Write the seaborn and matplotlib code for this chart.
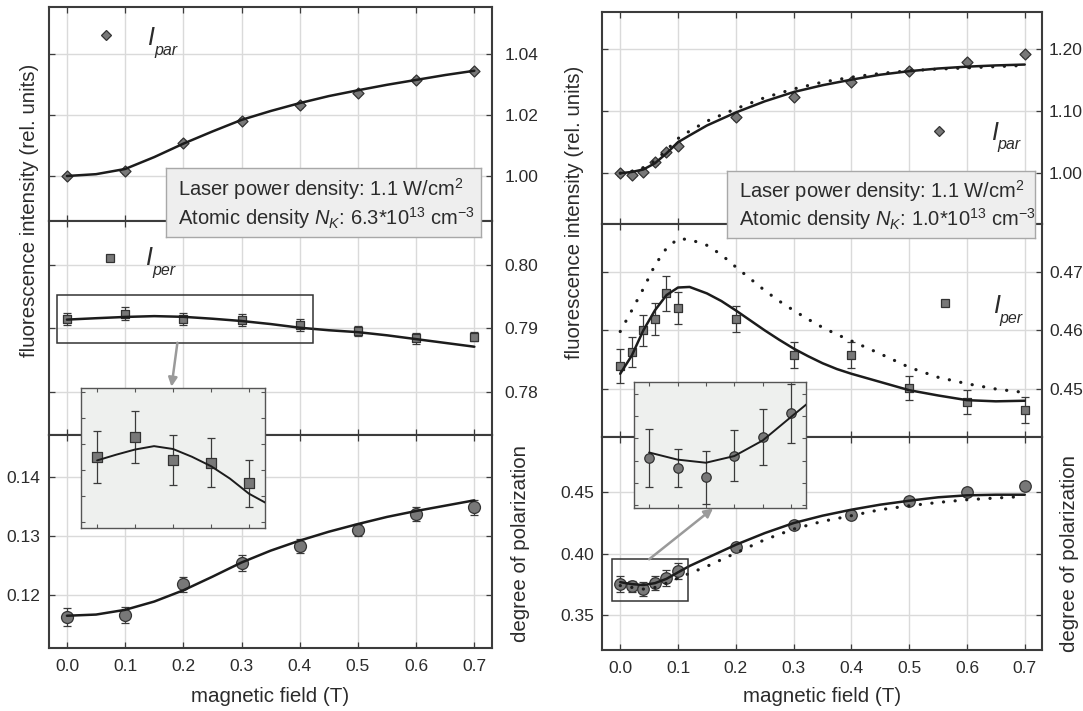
import matplotlib
matplotlib.use("Agg")
import matplotlib.pyplot as plt
from matplotlib.lines import Line2D
from matplotlib.patches import Rectangle, FancyArrowPatch
import seaborn as sns

# ---------------- left column: N_K = 6.3e13 cm^-3 ----------------
B_LEFT = [0.0, 0.1, 0.2, 0.3, 0.4, 0.5, 0.6, 0.7]
I_PAR_LEFT = [1.0000, 1.0016, 1.0109, 1.0181, 1.0232, 1.0273, 1.0315, 1.0344]
I_PAR_LEFT_ERR = [0.0008] * 8
I_PER_LEFT = [0.7915, 0.7923, 0.7914, 0.7913, 0.7905, 0.7896, 0.7884, 0.7887]
I_PER_LEFT_ERR = [0.0010, 0.0010, 0.00095, 0.00095, 0.0009, 0.0008, 0.0008, 0.0007]
POL_LEFT = [0.1163, 0.1166, 0.1218, 0.1254, 0.1283, 0.1310, 0.1337, 0.1348]
POL_LEFT_ERR = [0.0015, 0.0014, 0.0013, 0.0013, 0.0012, 0.0010, 0.0012, 0.0012]

FIT_B_LEFT = [0.00, 0.05, 0.10, 0.15, 0.20, 0.25, 0.30, 0.35,
              0.40, 0.45, 0.50, 0.55, 0.60, 0.65, 0.70]
FIT_PAR_LEFT = [1.0000, 1.0006, 1.0023, 1.0062, 1.0106, 1.0146, 1.0184, 1.0213,
                1.0239, 1.0262, 1.0281, 1.0299, 1.0315, 1.0331, 1.0345]
FIT_PER_LEFT = [0.79138, 0.79160, 0.79180, 0.79193, 0.79182, 0.79152, 0.79116, 0.79068,
                0.79010, 0.78970, 0.78940, 0.78890, 0.78830, 0.78770, 0.78710]
FIT_POL_LEFT = [0.1165, 0.1167, 0.1175, 0.1189, 0.1208, 0.1231, 0.1255, 0.1275,
                0.1292, 0.1307, 0.1320, 0.1332, 0.1342, 0.1351, 0.1360]

# ---------------- right column: N_K = 1.0e13 cm^-3 ----------------
B_RIGHT = [0.0, 0.02, 0.04, 0.06, 0.08, 0.1, 0.2, 0.3, 0.4, 0.5, 0.6, 0.7]
I_PAR_RIGHT = [1.0000, 0.9973, 1.0027, 1.0177, 1.0339, 1.0446,
               1.0903, 1.1235, 1.1477, 1.1655, 1.1800, 1.1919]
I_PAR_RIGHT_ERR = [0.004] * 12
I_PER_RIGHT = [0.4539, 0.4563, 0.4600, 0.4619, 0.4663, 0.4638,
               0.4619, 0.4558, 0.4558, 0.4502, 0.4478, 0.4464]
I_PER_RIGHT_ERR = [0.0029, 0.0026, 0.0026, 0.0027, 0.0030, 0.0027,
                   0.0022, 0.0022, 0.0022, 0.0020, 0.0021, 0.0022]
POL_RIGHT = [0.3755, 0.3733, 0.3712, 0.3761, 0.3802, 0.3856,
             0.4055, 0.4237, 0.4318, 0.4432, 0.4503, 0.4549]
POL_RIGHT_ERR = [0.0065, 0.0042, 0.0060, 0.0057, 0.0063, 0.0066,
                 0.0030, 0.0030, 0.0030, 0.0030, 0.0030, 0.0030]

FIT_B_RIGHT = [0.00, 0.02, 0.04, 0.06, 0.08, 0.10, 0.12, 0.15, 0.20, 0.25,
               0.30, 0.35, 0.40, 0.45, 0.50, 0.55, 0.60, 0.65, 0.70]
FIT_PAR_RIGHT = [1.000, 1.002, 1.006, 1.016, 1.032, 1.050, 1.061, 1.077, 1.098, 1.116,
                 1.131, 1.142, 1.151, 1.159, 1.1647, 1.169, 1.172, 1.174, 1.1754]
MODEL_PAR_RIGHT = [1.000, 1.003, 1.009, 1.020, 1.037, 1.056, 1.068, 1.084, 1.104, 1.122,
                   1.136, 1.147, 1.155, 1.161, 1.1655, 1.168, 1.170, 1.172, 1.174]
FIT_POL_RIGHT = [0.3768, 0.3752, 0.3745, 0.3760, 0.3795, 0.3848, 0.3900, 0.3965, 0.4073, 0.4168,
                 0.4250, 0.4310, 0.4359, 0.4400, 0.4432, 0.4460, 0.4476, 0.4481, 0.4481]
MODEL_POL_RIGHT = [0.3740, 0.3725, 0.3712, 0.3725, 0.3760, 0.3802, 0.3840, 0.3897, 0.4006, 0.4114,
                   0.4201, 0.4264, 0.4310, 0.4359, 0.4391, 0.4418, 0.4440, 0.4454, 0.4467]

FIT_B_PER_RIGHT = [0.00, 0.02, 0.04, 0.06, 0.08, 0.10, 0.12, 0.15, 0.175, 0.20, 0.225, 0.25,
                   0.275, 0.30, 0.325, 0.35, 0.375, 0.40, 0.425, 0.45, 0.50, 0.55, 0.60, 0.65, 0.70]
FIT_PER_RIGHT = [0.4526, 0.4557, 0.4600, 0.4634, 0.4660, 0.4673, 0.4674, 0.4663, 0.4650, 0.4634,
                 0.4617, 0.4600, 0.4584, 0.4569, 0.4556, 0.4544, 0.4534, 0.4526, 0.4519, 0.4512,
                 0.4498, 0.4489, 0.4481, 0.4479, 0.4480]
MODEL_PER_RIGHT = [0.4598, 0.4634, 0.4671, 0.4711, 0.4740, 0.4756, 0.4755, 0.4745, 0.4729, 0.4708,
                   0.4688, 0.4668, 0.4650, 0.4634, 0.4619, 0.4605, 0.4593, 0.4582, 0.4571, 0.4560,
                   0.4537, 0.4520, 0.4509, 0.4500, 0.4494]

X_TICKS = [0.0, 0.1, 0.2, 0.3, 0.4, 0.5, 0.6, 0.7]
X_LABELS = ["0.0", "0.1", "0.2", "0.3", "0.4", "0.5", "0.6", "0.7"]

# ---------------- style ----------------
FACE = "#787878"
EDGE = "#333333"
ERR_C = "#3a3a3a"
LINE_C = "#1c1c1c"
GRID_C = "#dadada"
SPINE_C = "#3c3c3c"
TEXT_C = "#2b2b2b"
INSET_BG = "#eef0ee"

sns.set_theme(style="white")
plt.rcParams["font.family"] = ["Liberation Sans", "DejaVu Sans"]
plt.rcParams["mathtext.fontset"] = "custom"
plt.rcParams["mathtext.rm"] = "Liberation Sans"
plt.rcParams["mathtext.it"] = "Liberation Sans:italic"
plt.rcParams["mathtext.bf"] = "Liberation Sans:bold"

W, H = 1083, 711
fig = plt.figure(figsize=(W / 100, H / 100), dpi=100)
fig.patch.set_facecolor("white")


def fx(px):
    return px / W


def fy(py):
    return 1 - py / H


def rect(x0, y0, x1, y1):
    return [fx(x0), fy(y1), (x1 - x0) / W, (y1 - y0) / H]


def points(ax, x, y, err, marker, ms, capsize=3.0):
    if err is not None:
        ax.errorbar(x, y, yerr=err, fmt="none", ecolor=ERR_C, elinewidth=0.9,
                    capsize=capsize, capthick=0.9, zorder=3)
    sns.scatterplot(x=x, y=y, marker=marker, s=ms ** 2, color=FACE, edgecolor=EDGE,
                    linewidth=0.9, ax=ax, zorder=4, legend=False)


def fit(ax, x, y, dotted=False, lw=1.8):
    if dotted:
        sns.lineplot(x=x, y=y, ax=ax, color=LINE_C, linewidth=2.3, sort=False,
                     errorbar=None, linestyle=(0, (0.05, 3.6)), dash_capstyle="round", zorder=5)
    else:
        sns.lineplot(x=x, y=y, ax=ax, color=LINE_C, linewidth=lw, sort=False,
                     errorbar=None, zorder=5)


def style(ax, xlim, ylim, yticks, yfmt, side, ypad, bottom_labels):
    ax.set_xlim(*xlim)
    ax.set_ylim(*ylim)
    ax.set_xticks(X_TICKS)
    ax.set_xticks([0.05, 0.15, 0.25, 0.35, 0.45, 0.55, 0.65], minor=True)
    ax.set_yticks(yticks)
    step = yticks[1] - yticks[0]
    ax.set_yticks([t + step / 2 for t in [yticks[0] - step] + list(yticks)], minor=True)
    ax.set_ylim(*ylim)
    ax.set_yticklabels([yfmt % t for t in yticks])
    ax.set_xlabel("")
    ax.set_ylabel("")
    ax.grid(True, which="major", color=GRID_C, linewidth=1.0)
    ax.set_axisbelow(True)
    for s in ax.spines.values():
        s.set_color(SPINE_C)
        s.set_linewidth(1.5)
    ax.tick_params(axis="both", which="both", direction="in", color=SPINE_C,
                   labelsize=12.5, labelcolor=TEXT_C)
    ax.tick_params(axis="both", which="major", length=4, width=0.9)
    ax.tick_params(axis="both", which="minor", length=2.5, width=0.8)
    ax.tick_params(axis="x", top=True, bottom=True, labelbottom=bottom_labels, pad=8)
    if side == "right":
        ax.tick_params(axis="y", left=True, right=True, labelleft=False, labelright=True, pad=ypad)
    else:
        ax.tick_params(axis="y", left=True, right=True, labelleft=True, labelright=False, pad=ypad)
    if bottom_labels:
        ax.set_xticklabels(X_LABELS)


def style_inset(ax, xlim, ylim, xticks, yticks):
    ax.set_facecolor(INSET_BG)
    ax.set_xlim(*xlim)
    ax.set_ylim(*ylim)
    ax.set_xticks(xticks)
    ax.set_yticks(yticks)
    ax.set_xlim(*xlim)
    ax.set_ylim(*ylim)
    ax.set_xlabel("")
    ax.set_ylabel("")
    ax.grid(False)
    for s in ax.spines.values():
        s.set_color("#555555")
        s.set_linewidth(1.0)
    ax.tick_params(axis="both", direction="in", length=3, width=0.8, color="#555555",
                   top=True, bottom=True, left=True, right=True,
                   labelleft=False, labelbottom=False)


XLIM = (-0.031, 0.730)

# ================= left column =================
axL1 = fig.add_axes(rect(48.9, 7.3, 491.8, 221))
axL2 = fig.add_axes(rect(48.9, 221, 491.8, 435))
axL3 = fig.add_axes(rect(48.9, 435, 491.8, 648.3))

points(axL1, B_LEFT, I_PAR_LEFT, I_PAR_LEFT_ERR, "D", 5.6, capsize=2.5)
fit(axL1, FIT_B_LEFT, FIT_PAR_LEFT)
style(axL1, XLIM, (0.98525, 1.0553), [1.00, 1.02, 1.04], "%.2f", "right", 9, False)

points(axL2, B_LEFT, I_PER_LEFT, I_PER_LEFT_ERR, "s", 5.8)
fit(axL2, FIT_B_LEFT, FIT_PER_LEFT)
style(axL2, XLIM, (0.77316, 0.80695), [0.78, 0.79, 0.80], "%.2f", "right", 9, False)
axL2.add_patch(Rectangle((-0.0167, 0.78774), 0.4396, 0.00752, fill=False,
                         edgecolor="#333333", linewidth=1.1, zorder=6))

points(axL3, B_LEFT, POL_LEFT, POL_LEFT_ERR, "o", 8.6)
fit(axL3, FIT_B_LEFT, FIT_POL_LEFT)
style(axL3, XLIM, (0.1110, 0.14704), [0.12, 0.13, 0.14], "%.2f", "left", 6, True)

insL = fig.add_axes(rect(80.9, 387.7, 264.5, 527.7))
insL.set_zorder(10)
points(insL, B_LEFT, I_PER_LEFT, I_PER_LEFT_ERR, "s", 7.0, capsize=3)
fit(insL, FIT_B_LEFT, FIT_PER_LEFT, lw=1.4)
style_inset(insL, (-0.0427, 0.441), (0.78879, 0.79418),
            [0.0, 0.1, 0.2, 0.3, 0.4], [0.789, 0.790, 0.791, 0.792, 0.793, 0.794])

# ================= right column =================
axR1 = fig.add_axes(rect(602.3, 11.7, 1042.1, 224))
axR2 = fig.add_axes(rect(602.3, 224, 1042.1, 436.7))
axR3 = fig.add_axes(rect(602.3, 436.7, 1042.1, 650))

points(axR1, B_RIGHT, I_PAR_RIGHT, I_PAR_RIGHT_ERR, "D", 5.6, capsize=2.5)
fit(axR1, FIT_B_RIGHT, MODEL_PAR_RIGHT, dotted=True)
fit(axR1, FIT_B_RIGHT, FIT_PAR_RIGHT)
style(axR1, XLIM, (0.918, 1.2607), [1.00, 1.10, 1.20], "%.2f", "right", 5, False)

points(axR2, B_RIGHT, I_PER_RIGHT, I_PER_RIGHT_ERR, "s", 5.5)
fit(axR2, FIT_B_PER_RIGHT, MODEL_PER_RIGHT, dotted=True)
fit(axR2, FIT_B_PER_RIGHT, FIT_PER_RIGHT)
style(axR2, XLIM, (0.44187, 0.47813), [0.45, 0.46, 0.47], "%.2f", "right", 5, False)

points(axR3, B_RIGHT, POL_RIGHT, POL_RIGHT_ERR, "o", 8.3)
fit(axR3, FIT_B_RIGHT, MODEL_POL_RIGHT, dotted=True)
fit(axR3, FIT_B_RIGHT, FIT_POL_RIGHT)
style(axR3, XLIM, (0.3215, 0.4954), [0.35, 0.40, 0.45], "%.2f", "left", 6, True)
axR3.add_patch(Rectangle((-0.0137, 0.3611), 0.1307, 0.0346, fill=False,
                         edgecolor="#333333", linewidth=1.1, zorder=6))

insR = fig.add_axes(rect(634.2, 381.7, 806.0, 507.7))
insR.set_zorder(10)
points(insR, B_RIGHT, POL_RIGHT, POL_RIGHT_ERR, "o", 6.8, capsize=3)
fit(insR, FIT_B_RIGHT, FIT_POL_RIGHT, lw=1.4)
style_inset(insR, (-0.0105, 0.1105), (0.3644, 0.3927),
            [0.0, 0.02, 0.04, 0.06, 0.08, 0.10], [0.365, 0.370, 0.375, 0.380, 0.385, 0.390])

# ---------------- arrows from zoom boxes to insets ----------------
for (x0, y0), (x1, y1) in [((177.4, 342.7), (171.5, 386.7)),
                           ((649.1, 559.3), (713.1, 508.3))]:
    fig.add_artist(FancyArrowPatch((fx(x0), fy(y0)), (fx(x1), fy(y1)),
                                   transform=fig.transFigure, arrowstyle="-|>",
                                   mutation_scale=13, color="#9a9a9a", linewidth=1.8,
                                   shrinkA=0, shrinkB=0, zorder=15))

# ---------------- parameter boxes ----------------
for (x0, y0, x1, y1), density in [((166.3, 168, 481.1, 237), "6.3"),
                                  ((727.0, 170.7, 1034.5, 238.3), "1.0")]:
    axb = fig.add_axes(rect(x0, y0, x1, y1))
    axb.set_zorder(20)
    axb.set_facecolor("#eeeeee")
    axb.set_xticks([])
    axb.set_yticks([])
    for s in axb.spines.values():
        s.set_color("#a8a8a8")
        s.set_linewidth(1.0)
    axb.text(0.038, 0.70, r"Laser power density: 1.1 W/cm$^2$", transform=axb.transAxes,
             fontsize=14.5, color=TEXT_C, ha="left", va="center")
    axb.text(0.038, 0.28, "Atomic density $N_K$: " + density + r"*10$^{13}$ cm$^{-3}$",
             transform=axb.transAxes, fontsize=14.5, color=TEXT_C, ha="left", va="center")

# ---------------- in-plot legends ----------------
for (mx, my), marker, ms, (ix, iy), (sx, sy), sub in [
        ((106, 35), "D", 5.6, (147.5, 45), (154, 54.5), "par"),
        ((110, 258.3), "s", 5.8, (145.5, 265), (152, 274.5), "per"),
        ((939.3, 130.7), "D", 5.6, (991.5, 140), (997, 148.5), "par"),
        ((945, 303.3), "s", 5.8, (993.5, 313), (999, 323), "per")]:
    fig.add_artist(Line2D([fx(mx)], [fy(my)], transform=fig.transFigure, marker=marker,
                          markersize=ms, markerfacecolor=FACE, markeredgecolor=EDGE,
                          markeredgewidth=0.9, linestyle="none", zorder=25))
    fig.text(fx(ix), fy(iy), "I", fontsize=18, style="italic", color=TEXT_C,
             ha="left", va="baseline", zorder=25)
    fig.text(fx(sx), fy(sy), sub, fontsize=11.5, style="italic", color=TEXT_C,
             ha="left", va="baseline", zorder=25)

# ---------------- axis titles ----------------
LAB = dict(fontsize=14.8, color=TEXT_C, ha="center", va="center")
fig.text(fx(30), fy(210), "fluorescence intensity (rel. units)", rotation=90, **LAB)
fig.text(fx(520), fy(543), "degree of polarization", rotation=90, **LAB)
fig.text(fx(574.6), fy(212), "fluorescence intensity (rel. units)", rotation=90, **LAB)
fig.text(fx(1069.8), fy(553), "degree of polarization", rotation=90, **LAB)
fig.text(fx(270.4), fy(696.7), "magnetic field (T)", **LAB)
fig.text(fx(822.2), fy(696.7), "magnetic field (T)", **LAB)

fig.savefig("out.png", dpi=100, facecolor="white")
